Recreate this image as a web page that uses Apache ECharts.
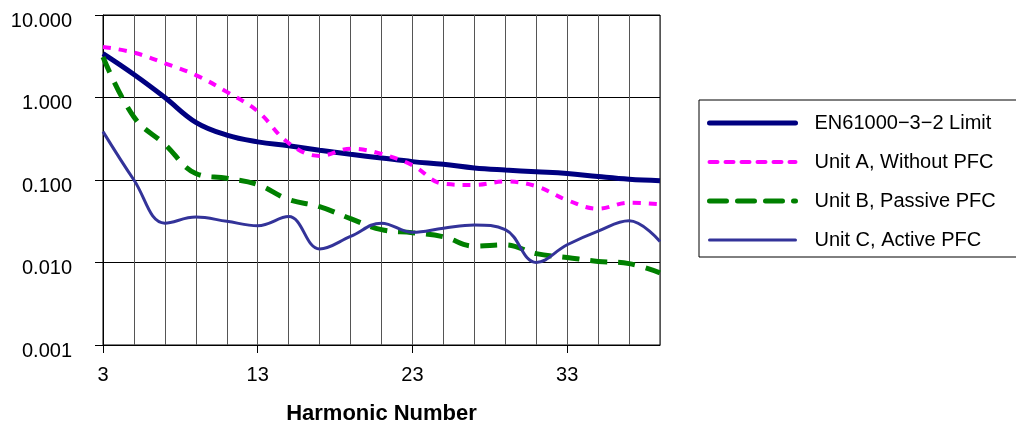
<!DOCTYPE html>
<html>
<head>
<meta charset="utf-8">
<script src="https://cdn.jsdelivr.net/npm/echarts@6/dist/echarts.min.js"></script>
<style>
  html, body { margin: 0; padding: 0; background: #fff; }
  #chart { width: 1016px; height: 424px; }
</style>
</head>
<body>
<div id="chart"></div>
<script>
// harmonic orders on the x axis
const harmonics = ['3', '5', '7', '9', '11', '13', '15', '17', '19', '21', '23', '25', '27', '29', '31', '33', '35', '37', '39'];

// values (log scale)
const limitVals = [3.4, 1.9, 1.0, 0.5, 0.35, 0.29, 0.26, 0.23, 0.205, 0.185, 0.167, 0.155, 0.14, 0.132, 0.126, 0.12, 0.11, 0.102, 0.098];
const unitA = [4.1, 3.5, 2.6, 1.87, 1.17, 0.68, 0.28, 0.196, 0.24, 0.207, 0.151, 0.09, 0.087, 0.096, 0.084, 0.057, 0.045, 0.053, 0.051];
const unitB = [3.1, 0.58, 0.27, 0.12, 0.105, 0.088, 0.058, 0.0475, 0.034, 0.025, 0.023, 0.0205, 0.0158, 0.0164, 0.0128, 0.0115, 0.0103, 0.0097, 0.0075];
const unitC = [0.386, 0.1, 0.03, 0.0355, 0.0316, 0.0279, 0.036, 0.0146, 0.0207, 0.03, 0.0232, 0.026, 0.0285, 0.025, 0.01, 0.0164, 0.024, 0.032, 0.018];

const seriesNames = ['EN61000\u22123\u22122 Limit', 'Unit A, Without PFC', 'Unit B, Passive PFC', 'Unit C, Active PFC'];

const font = 'Liberation Sans, Arial, sans-serif';

const chart = echarts.init(document.getElementById('chart'));

function lineSeries(name, data, color, width, type) {
  return {
    name: name,
    type: 'line',
    data: data,
    smooth: 0.4,
    symbol: 'none',
    color: color,
    lineStyle: { color: color, width: width, type: type },
    z: 3
  };
}

chart.setOption({
  animation: false,
  grid: {
    left: 103, right: 356, top: 15, bottom: 79,
    outerBoundsMode: 'none',
    containLabel: false,
    show: true, borderColor: '#000', borderWidth: 1
  },
  legend: {
    orient: 'vertical',
    left: 699, top: 100,
    data: seriesNames,
    itemWidth: 86, itemHeight: 14,
    itemGap: 19,
    padding: [13, 22, 7, 8],
    borderColor: '#000', borderWidth: 1,
    itemStyle: { opacity: 0 },
    lineStyle: { width: 'inherit', type: 'inherit', cap: 'round' },
    textStyle: { fontFamily: font, fontSize: 20, color: '#000', padding: [0, 0, 0, 14] }
  },
  xAxis: {
    type: 'category',
    data: harmonics,
    boundaryGap: false,
    name: 'Harmonic Number',
    nameLocation: 'middle',
    nameGap: 58,
    nameTextStyle: { fontFamily: font, fontSize: 22, fontWeight: 'bold', color: '#000' },
    axisLine: { lineStyle: { color: '#000', width: 1 } },
    axisTick: { show: true, interval: 4, length: 8, inside: false, lineStyle: { color: '#000' } },
    axisLabel: { interval: 4, margin: 20, fontFamily: font, fontSize: 20, color: '#000' },
    splitLine: { show: true, interval: 0, lineStyle: { color: '#555', width: 1 } }
  },
  yAxis: {
    type: 'log',
    logBase: 10,
    min: 0.001,
    max: 10,
    axisLine: { show: true, lineStyle: { color: '#000', width: 1 } },
    axisTick: { show: true, length: 8, inside: false, lineStyle: { color: '#000' } },
    axisLabel: {
      margin: 31, fontFamily: font, fontSize: 20, color: '#000',
      verticalAlign: 'top', lineHeight: 12,
      formatter: v => Number(v).toFixed(3)
    },
    splitLine: { show: true, lineStyle: { color: '#000', width: 1 } },
    minorTick: { show: false }
  },
  series: [
    lineSeries(seriesNames[0], limitVals, '#000080', 5, 'solid'),
    lineSeries(seriesNames[1], unitA, '#FF00FF', 4, [8, 8]),
    lineSeries(seriesNames[2], unitB, '#008000', 5, [17, 11]),
    lineSeries(seriesNames[3], unitC, '#333399', 3, 'solid')
  ]
});
</script>
</body>
</html>
